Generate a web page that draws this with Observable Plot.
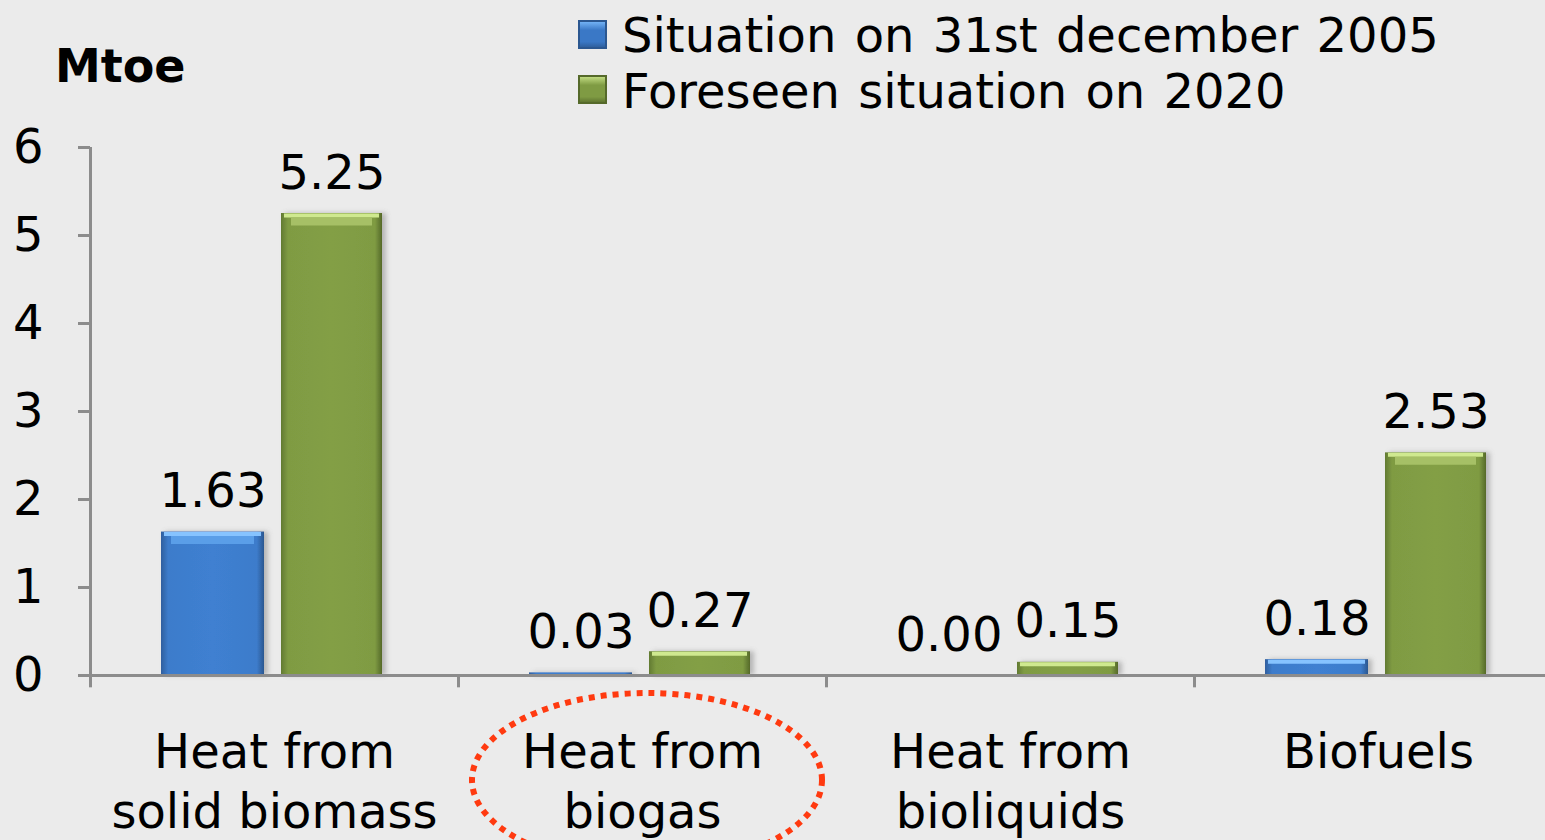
<!DOCTYPE html>
<html><head><meta charset="utf-8">
<script src="https://cdn.jsdelivr.net/npm/d3@7"></script>
<script src="https://cdn.jsdelivr.net/npm/@observablehq/plot@0.6"></script>
<style>
html,body{margin:0;padding:0;background:#ebebeb;overflow:hidden}
#wrap{position:relative;width:1545px;height:840px;font-family:"DejaVu Sans",Verdana,sans-serif;color:#000}
#unit{position:absolute;left:55px;top:38px;font-weight:bold;font-size:46px;line-height:56px}
.sw{position:absolute;left:578px;width:29px;height:29px}
.lt{position:absolute;left:622px;font-size:48px;line-height:56px;white-space:nowrap;word-spacing:3px}
</style></head>
<body><div id="wrap"></div>
<script>
const categories = ["Heat from\nsolid biomass", "Heat from\nbiogas", "Heat from\nbioliquids", "Biofuels"];
const seriesNames = ["Situation on 31st december 2005", "Foreseen situation on 2020"];
const values2005 = [1.63, 0.03, 0.00, 0.18];
const values2020 = [5.25, 0.27, 0.15, 2.53];
const yTicks = [0, 1, 2, 3, 4, 5, 6];
const unitLabel = "Mtoe";

const d05 = categories.map((c, i) => ({cat: c, value: values2005[i]}));
const d20 = categories.map((c, i) => ({cat: c, value: values2020[i]}));
const fmt = d3.format(".2f");

const W = 1545, H = 840, BAND = 368, LEFT = 90;
const axisColor = "#8c8c8c";
const blueIns = {insetLeft: 71, insetRight: BAND - 174};
const greenIns = {insetLeft: 191, insetRight: BAND - 292};
const blueDx = (71 + 174) / 2 - BAND / 2;
const greenDx = (191 + 292) / 2 - BAND / 2;
const firstCat = () => categories[0];

const plot = Plot.plot({
  width: W, height: H,
  marginTop: 147, marginBottom: 165, marginLeft: LEFT, marginRight: 0,
  style: {background: "transparent", fontFamily: "'DejaVu Sans', Verdana, sans-serif", fontSize: "48px", color: "#000", overflow: "visible"},
  x: {domain: categories, range: [LEFT, LEFT + BAND * categories.length], padding: 0, axis: null},
  y: {domain: [0, 6], axis: null},
  marks: [
    // bodies
    Plot.barY(d05, {x: "cat", y: "value", fill: "url(#gBlue)", ...blueIns}),
    Plot.barY(d20, {x: "cat", y: "value", fill: "url(#gGreen)", ...greenIns}),
    // top bevel highlights
    Plot.tickY(d05.filter(d => d.value >= 0.1), {x: "cat", y: "value", dy: 2, stroke: "#86c3ff", strokeWidth: 4, insetLeft: blueIns.insetLeft + 3, insetRight: blueIns.insetRight + 3}),
    Plot.tickY(d05.filter(d => d.value >= 0.3), {x: "cat", y: "value", dy: 8, stroke: "#5a9ee8", strokeWidth: 8, insetLeft: blueIns.insetLeft + 10, insetRight: blueIns.insetRight + 10}),
    Plot.tickY(d20.filter(d => d.value >= 0.1), {x: "cat", y: "value", dy: 2, stroke: "#cfe98f", strokeWidth: 4, insetLeft: greenIns.insetLeft + 3, insetRight: greenIns.insetRight + 3}),
    Plot.tickY(d20.filter(d => d.value >= 0.3), {x: "cat", y: "value", dy: 8, stroke: "#a6c066", strokeWidth: 8, insetLeft: greenIns.insetLeft + 10, insetRight: greenIns.insetRight + 10}),
    // value labels
    Plot.text(d05, {x: "cat", y: "value", text: d => fmt(d.value), dx: blueDx, dy: -25, lineAnchor: "bottom", fontSize: 48, fill: "#000"}),
    Plot.text(d20, {x: "cat", y: "value", text: d => fmt(d.value), dx: greenDx, dy: -25, lineAnchor: "bottom", fontSize: 48, fill: "#000"}),
    // axes
    Plot.ruleY([0], {stroke: axisColor, strokeWidth: 3}),
    Plot.ruleX(categories, {x: d => d, dx: -BAND / 2, y1: 0, y2: -0.14, stroke: axisColor, strokeWidth: 3}),
    Plot.ruleX([categories[0]], {x: d => d, dx: -BAND / 2, y1: 0, y2: 6, stroke: axisColor, strokeWidth: 3}),
    Plot.tickY(yTicks, {y: d => d, x: firstCat, stroke: axisColor, strokeWidth: 3, insetLeft: -12, insetRight: BAND}),
    Plot.text(yTicks, {y: d => d, x: firstCat, text: d => String(d), dx: -BAND / 2 - 47, textAnchor: "end", fontSize: 48, fill: "#000"}),
    // category labels
    Plot.text(categories, {x: d => d, y: 0, text: d => d, dy: 50, lineAnchor: "top", lineHeight: 1.25, fontSize: 48, fill: "#000"})
  ]
});

const wrap = document.getElementById("wrap");
wrap.appendChild(plot);

const svg = d3.select(plot);
const defs = svg.insert("defs", ":first-child");
function grad(id, edgeL, mid, edgeR) {
  const g = defs.append("linearGradient").attr("id", id).attr("x1", 0).attr("x2", 1).attr("y1", 0).attr("y2", 0);
  [[0, edgeL], [0.07, mid], [0.5, d3.color(mid).brighter(0.08)], [0.93, mid], [1, edgeR]].forEach(([o, c]) =>
    g.append("stop").attr("offset", o).attr("stop-color", c));
}
grad("gBlue", "#2f5f9e", "#3d7ccb", "#2b5790");
grad("gGreen", "#627a31", "#7f9b43", "#55692a");
const f = defs.append("filter").attr("id", "shadow").attr("x", "-10%").attr("y", "-10%").attr("width", "130%").attr("height", "120%");
f.append("feDropShadow").attr("dx", 4).attr("dy", 0).attr("stdDeviation", 2.5).attr("flood-color", "#777").attr("flood-opacity", 0.45);
svg.selectAll('g[aria-label="bar"]').attr("filter", "url(#shadow)");

// annotation ellipse round the biogas label
const xs = plot.scale("x"), ys = plot.scale("y");
svg.append("ellipse")
  .attr("cx", xs.apply(categories[1]) + BAND / 2 + 5)
  .attr("cy", ys.apply(0) + 105)
  .attr("rx", 175).attr("ry", 87)
  .attr("fill", "none").attr("stroke", "#ff3a10").attr("stroke-width", 6)
  .attr("stroke-dasharray", "6 6");

// unit label and legend
const unit = document.createElement("div");
unit.id = "unit"; unit.textContent = unitLabel; wrap.appendChild(unit);
const swColors = [["#3a78c6", "#7fbfff", "#2b5790"], ["#7f9b43", "#cfe98f", "#55692a"]];
seriesNames.forEach((name, i) => {
  const sw = document.createElement("div");
  sw.className = "sw";
  sw.style.top = (20 + i * 55) + "px";
  const [m, h, e] = swColors[i];
  sw.style.background = `linear-gradient(to bottom, ${h} 0%, ${m} 35%, ${m} 75%, ${e} 100%)`;
  sw.style.boxShadow = `inset 0 0 0 2px ${e}`;
  wrap.appendChild(sw);
  const t = document.createElement("div");
  t.className = "lt";
  t.style.top = (7 + i * 56) + "px";
  t.textContent = name;
  wrap.appendChild(t);
});
</script>
</body></html>
